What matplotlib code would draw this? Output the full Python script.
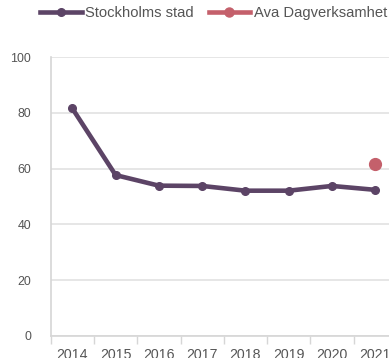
import matplotlib
matplotlib.use("Agg")
import matplotlib.pyplot as plt
from matplotlib.lines import Line2D

plt.rcParams['font.family'] = ['Liberation Sans', 'DejaVu Sans']

years = ["2014", "2015", "2016", "2017", "2018", "2019", "2020", "2021"]
stockholm = [81.6, 57.7, 53.9, 53.8, 52.1, 52.1, 53.8, 52.4]
ava = [None, None, None, None, None, None, None, 61.6]
y_ticks = [0, 20, 40, 60, 80, 100]

purple = "#5c4466"
red = "#c4606b"
text_col = "#555555"
grid_col = "#e2e2e2"

fig = plt.figure(figsize=(3.89, 3.58), dpi=100)
ax = fig.add_axes([0.1303, 0.0615, 0.890, 0.779])

x = list(range(len(years)))
ax.plot(x, stockholm, color=purple, lw=3.3, marker="o", ms=5.5,
        solid_capstyle="round", solid_joinstyle="round", zorder=3)
ava_x = [i for i, v in enumerate(ava) if v is not None]
ava_y = [v for v in ava if v is not None]
ax.plot(ava_x, ava_y, color=red, lw=0, marker="o", ms=8.5, zorder=4)

ax.set_ylim(0, 100)
ax.set_xlim(-0.5, len(years) - 0.5)
ax.set_yticks(y_ticks)
ax.set_yticklabels([str(t) for t in y_ticks])
ax.yaxis.grid(True, color=grid_col, lw=1.2)
ax.set_axisbelow(True)

ax.set_xticks(x)
ax.set_xticklabels(years)
ax.set_xticks([i - 0.5 for i in range(len(years) + 1)], minor=True)
ax.tick_params(axis="x", which="major", length=0, pad=8.5, labelsize=10.2, colors=text_col)
ax.tick_params(axis="x", which="minor", length=6, width=1, color="#d6d6d6")
ax.tick_params(axis="y", length=0, pad=14, labelsize=8.9, colors=text_col)

for side in ["top", "right"]:
    ax.spines[side].set_visible(False)
ax.spines["bottom"].set_color("#d6d6d6")
ax.spines["left"].set_color("#d6d6d6")
ax.spines["bottom"].set_linewidth(1.2)
ax.spines["left"].set_linewidth(1.2)

handles = [
    Line2D([], [], color=purple, lw=3.3, marker="o", ms=5.5),
    Line2D([], [], color=red, lw=3.3, marker="o", ms=6.5),
]
fig.legend(handles, ["Stockholms stad", "Ava Dagverksamhet"], loc="center left",
           bbox_to_anchor=(0.104, 0.963), ncol=2, frameon=False, fontsize=10.6,
           handlelength=2.8, handletextpad=0.25, columnspacing=1.0,
           labelcolor=text_col, borderaxespad=0, borderpad=0)

fig.savefig("out.png", dpi=100)
